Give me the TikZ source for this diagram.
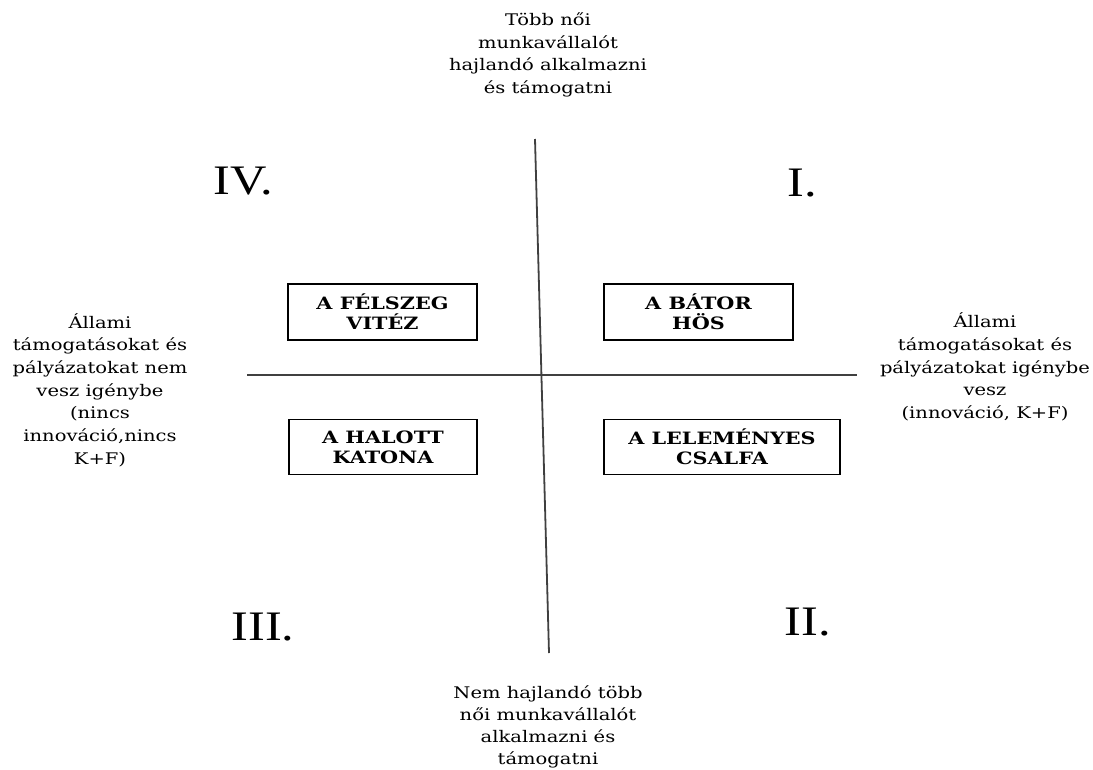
\documentclass[tikz,border=0pt]{standalone}
\usepackage{fontspec}
\setmainfont[FakeStretch=1.22]{DejaVu Serif}
\newfontfamily\numfont[FakeStretch=1.2]{Liberation Serif}
\begin{document}
\begin{tikzpicture}[x=1pt,y=-1pt,
  lbl/.style={align=center,font=\fontsize{16}{22.7}\selectfont,inner sep=0pt},
  blbl/.style={align=center,font=\fontsize{16}{22}\selectfont,inner sep=0pt},
  qbox/.style={draw,line width=1.3pt,align=center,font=\bfseries\fontsize{17}{20}\selectfont,inner sep=0pt},
  num/.style={font=\numfont\fontsize{42}{42}\selectfont,inner sep=0pt},
  axis/.style={line width=1.8pt,draw=black!75}]
\useasboundingbox (0,0) rectangle (1093,769);
% axes endpoints
\coordinate (vt) at (535,139);
\coordinate (vb) at (549,653);
\coordinate (hl) at (247,375);
\coordinate (hr) at (857,375);
\draw[axis] (vt) -- (vb);
\draw[axis] (hl) -- (hr);
% boxes
\node[qbox,minimum width=189pt,minimum height=56pt] (b4) at (382.5,312) {A FÉLSZEG\\VITÉZ};
\node[qbox,minimum width=189pt,minimum height=56pt] (b1) at (698.5,312) {A BÁTOR\\HÖS};
\node[qbox,minimum width=188pt,minimum height=55pt] (b3) at (383,447) {A HALOTT\\KATONA};
\node[qbox,minimum width=236pt,minimum height=55pt] (b2) at (722,447) {A LELEMÉNYES\\CSALFA};
% labels
\node[lbl] (top) at (548,55) {Több női\\munkavállalót\\hajlandó alkalmazni\\és támogatni};
\node[blbl] (bot) at (548,727) {Nem hajlandó több\\női munkavállalót\\alkalmazni és\\támogatni};
\node[lbl] (left) at (100,390) {Állami\\támogatásokat és\\pályázatokat nem\\vesz igénybe\\(nincs\\innováció,nincs\\K+F)};
\node[lbl] (right) at (985,367) {Állami\\támogatásokat és\\pályázatokat igénybe\\vesz\\(innováció, K+F)};
% quadrant numerals
\node[num] (n4) at (243,181) {IV.};
\node[num] (n1) at (802,183) {I.};
\node[num] (n3) at (263,627) {III.};
\node[num] (n2) at (808,622) {II.};
\end{tikzpicture}
\end{document}
